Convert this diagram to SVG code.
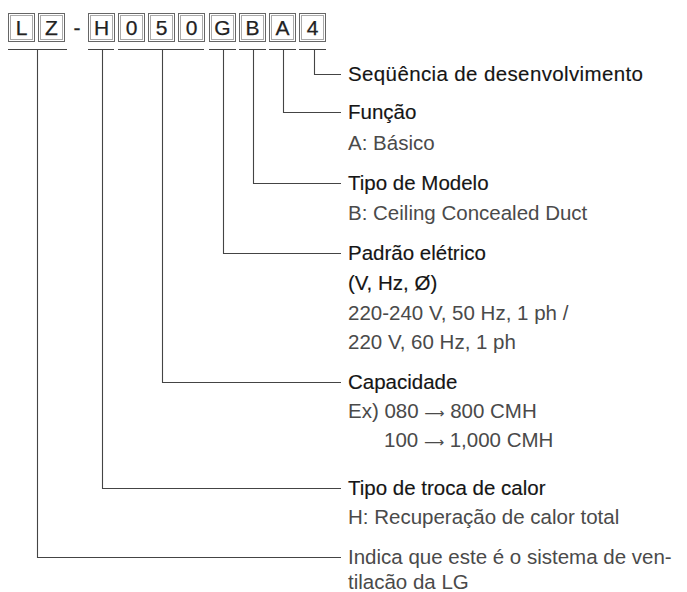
<svg xmlns="http://www.w3.org/2000/svg" width="687" height="592" viewBox="0 0 687 592">
<style>
.bo{fill:#fff;stroke:#666;stroke-width:1}
.bi{fill:none;stroke:#aaa;stroke-width:1}
.bt{font-family:"Liberation Sans",Arial,sans-serif;font-size:21px;fill:#222;stroke:#222;stroke-width:0.25;text-anchor:middle}
.ln{fill:none;stroke:#444;stroke-width:1.1}
.h{font-family:"Liberation Sans",Arial,sans-serif;font-size:20.5px;fill:#151515;stroke:#151515;stroke-width:0.15}
.d{font-family:"Liberation Sans","DejaVu Sans",Arial,sans-serif;font-size:20.5px;fill:#4a4a4a}
.ar{font-family:"DejaVu Sans",sans-serif;font-size:14px}
</style>
<rect width="687" height="592" fill="#fff"/>
<g id="code">
  <g id="box-L"><rect class="bo" x="8.5" y="13.5" width="26" height="28"/><rect class="bi" x="10.5" y="15.5" width="22" height="24"/><text class="bt" x="21.5" y="35">L</text></g>
  <g id="box-Z"><rect class="bo" x="38.5" y="13.5" width="26" height="28"/><rect class="bi" x="40.5" y="15.5" width="22" height="24"/><text class="bt" x="51.5" y="35">Z</text></g>
  <g id="dash"><text class="bt" x="77" y="35">-</text></g>
  <g id="box-H"><rect class="bo" x="88.5" y="13.5" width="26" height="28"/><rect class="bi" x="90.5" y="15.5" width="22" height="24"/><text class="bt" x="101.5" y="35">H</text></g>
  <g id="box-0a"><rect class="bo" x="118.5" y="13.5" width="26" height="28"/><rect class="bi" x="120.5" y="15.5" width="22" height="24"/><text class="bt" x="131.5" y="35">0</text></g>
  <g id="box-5"><rect class="bo" x="148.5" y="13.5" width="26" height="28"/><rect class="bi" x="150.5" y="15.5" width="22" height="24"/><text class="bt" x="161.5" y="35">5</text></g>
  <g id="box-0b"><rect class="bo" x="178.5" y="13.5" width="26" height="28"/><rect class="bi" x="180.5" y="15.5" width="22" height="24"/><text class="bt" x="191.5" y="35">0</text></g>
  <g id="box-G"><rect class="bo" x="209.5" y="13.5" width="26" height="28"/><rect class="bi" x="211.5" y="15.5" width="22" height="24"/><text class="bt" x="222.5" y="35">G</text></g>
  <g id="box-B"><rect class="bo" x="239.5" y="13.5" width="26" height="28"/><rect class="bi" x="241.5" y="15.5" width="22" height="24"/><text class="bt" x="252.5" y="35">B</text></g>
  <g id="box-A"><rect class="bo" x="269.5" y="13.5" width="26" height="28"/><rect class="bi" x="271.5" y="15.5" width="22" height="24"/><text class="bt" x="282.5" y="35">A</text></g>
  <g id="box-4"><rect class="bo" x="299.5" y="13.5" width="26" height="28"/><rect class="bi" x="301.5" y="15.5" width="22" height="24"/><text class="bt" x="312.5" y="35">4</text></g>
</g>
<g id="connectors">
  <path class="ln" d="M8 49.5H67M88 49.5H114M118 49.5H204M209 49.5H236M239 49.5H266M269 49.5H296M299 49.5H326"/>
  <path class="ln" d="M314.5 49.5V74.5H341"/>
  <path class="ln" d="M283.5 49.5V112.5H341"/>
  <path class="ln" d="M253.5 49.5V183.5H341"/>
  <path class="ln" d="M223.5 49.5V253.5H341"/>
  <path class="ln" d="M162.5 49.5V382.5H341"/>
  <path class="ln" d="M102.5 49.5V488.5H341"/>
  <path class="ln" d="M37.5 49.5V557.5H341"/>
</g>
<g id="n-seq"><text class="h" x="348" y="81" textLength="295" lengthAdjust="spacing">Seqüência de desenvolvimento</text></g>
<g id="n-funcao"><text class="h" x="348" y="119">Função</text><text class="d" x="348" y="150">A: Básico</text></g>
<g id="n-modelo"><text class="h" x="348" y="190">Tipo de Modelo</text><text class="d" x="348" y="220">B: Ceiling Concealed Duct</text></g>
<g id="n-padrao"><text class="h" x="348" y="260">Padrão elétrico</text><text class="h" x="348" y="290">(V, Hz, Ø)</text><text class="d" x="348" y="320">220-240 V, 50 Hz, 1 ph /</text><text class="d" x="348" y="349">220 V, 60 Hz, 1 ph</text></g>
<g id="n-cap"><text class="h" x="348" y="389">Capacidade</text><text class="d" x="348" y="418">Ex) 080 <tspan class="ar">⟶</tspan> 800 CMH</text><text class="d" x="384" y="447">100 <tspan class="ar">⟶</tspan> 1,000 CMH</text></g>
<g id="n-troca"><text class="h" x="348" y="495">Tipo de troca de calor</text><text class="d" x="348" y="524">H: Recuperação de calor total</text></g>
<g id="n-lg"><text class="d" x="348" y="564">Indica que este é o sistema de ven-</text><text class="d" x="348" y="589">tilacão da LG</text></g>
</svg>
